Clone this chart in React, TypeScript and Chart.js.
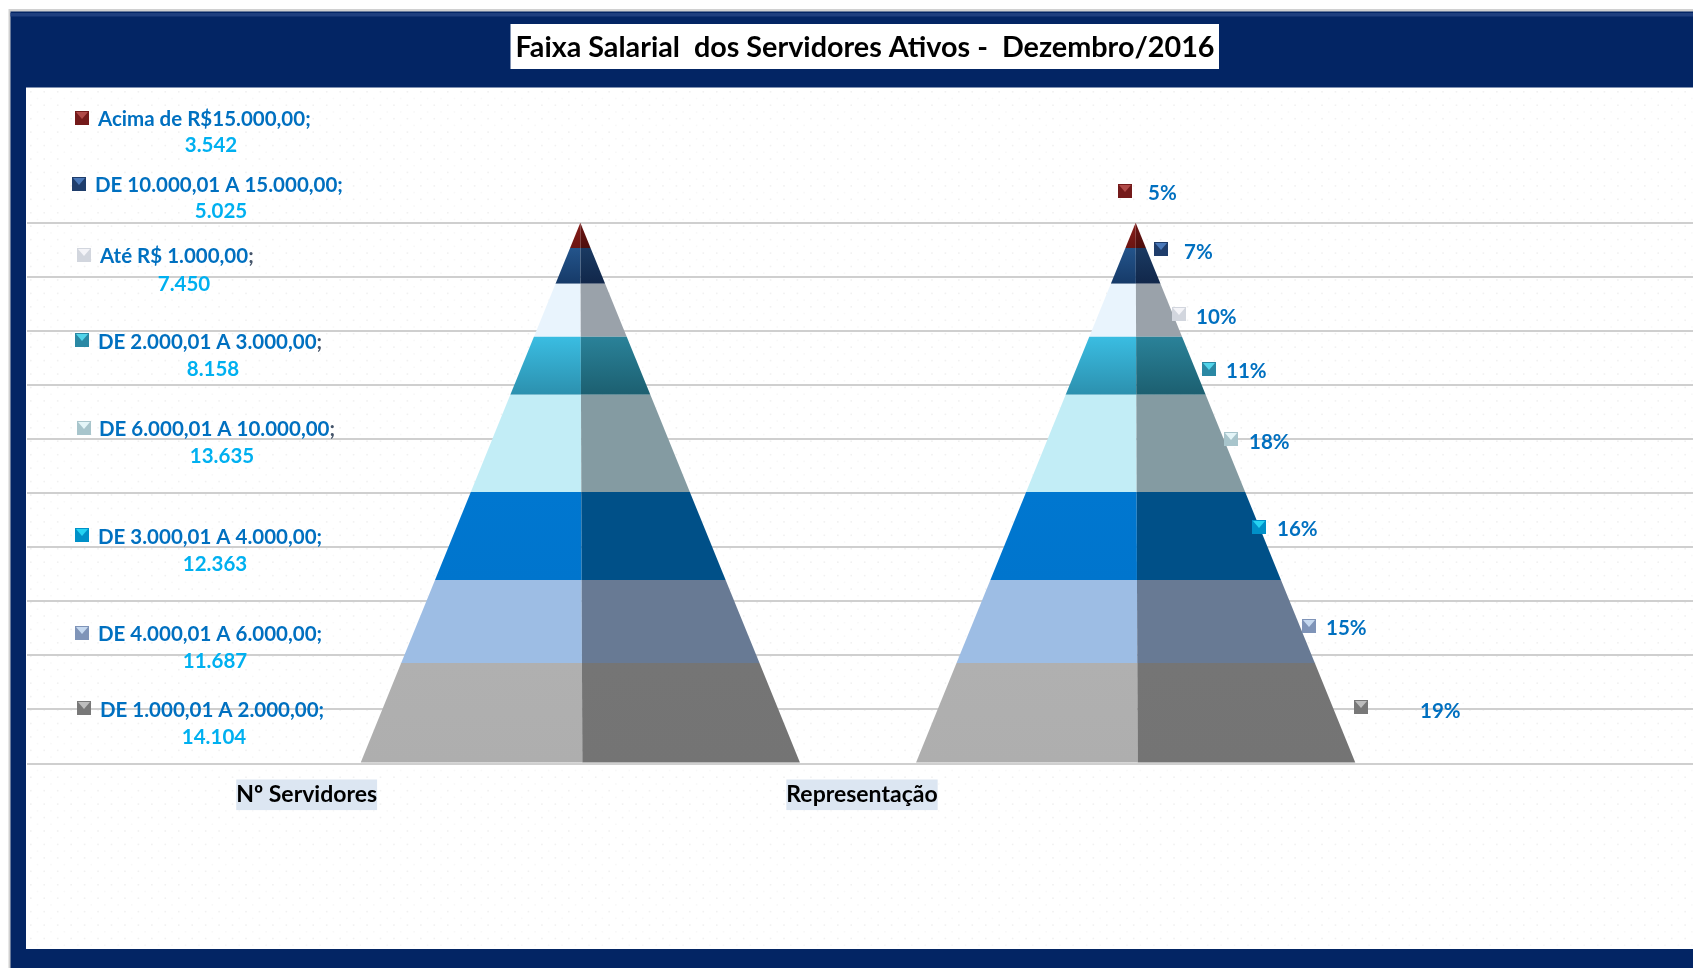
import React, { useEffect, useRef } from "react";
import { Chart, registerables, BarController, BarElement } from "chart.js";

// ---- data (bottom of the pyramid to the top) ----
const categories = ["Nº Servidores", "Representação", ""];
const bandNames = [
  "DE 1.000,01 A 2.000,00",
  "DE 4.000,01 A 6.000,00",
  "DE 3.000,01 A 4.000,00",
  "DE 6.000,01 A 10.000,00",
  "DE 2.000,01 A 3.000,00",
  "Até R$ 1.000,00",
  "DE 10.000,01 A 15.000,00",
  "Acima de R$15.000,00",
];
const servidores = [14104, 11687, 12363, 13635, 8158, 7450, 5025, 3542];
const servidoresText = ["14.104", "11.687", "12.363", "13.635", "8.158", "7.450", "5.025", "3.542"];
const representacao = [19, 15, 16, 18, 11, 10, 7, 5];
const titleText = "Faixa Salarial  dos Servidores Ativos -  Dezembro/2016";

// ---- styles ----
const litSide = [
  ["#b0b0b0", "#aeaeae"], ["#9dbde4", "#9dbde4"], ["#0077d0", "#0075cd"], ["#c2edf6", "#c2edf6"],
  ["#3abde2", "#2c90ae"], ["#e9f4fd", "#e9f4fd"], ["#23548b", "#163a68"], ["#861c18", "#6c1512"],
];
const darkSide = [
  ["#757575", "#747474"], ["#687a94", "#687a94"], ["#005088", "#005088"], ["#849ba2", "#849ba2"],
  ["#2a8299", "#1c5f70"], ["#9aa2aa", "#9aa2aa"], ["#1a3a62", "#11274a"], ["#6c1412", "#4e0f0d"],
];
const markerTop = ["#bdbdbd", "#c6d9f0", "#25d3f2", "#e4f5f8", "#52d4ea", "#f4f4f8", "#4a78b8", "#b04a48"];
const markerBase = ["#787878", "#7f94b8", "#0090c8", "#a8c5cc", "#2a88a4", "#d2d6de", "#1f3d6b", "#741a1a"];
const semicolonColor = ["#0070c0", "#0070c0", "#0070c0", "#44546a", "#44546a", "#44546a", "#0070c0", "#0070c0"];
const FONT = "Lato, 'Open Sans', sans-serif";

// ---- manual label placement, as in the reference: [marker x, marker y, text x, text y, value x, value y] ----
const leftPlacement = [
  [84, 708, 100, 710, 214, 737],
  [82, 633, 98, 634, 215, 661],
  [82, 535, 98, 537, 215, 564],
  [84, 428, 99, 429, 222, 456],
  [82, 340, 98, 342, 213, 369],
  [84, 255, 100, 256, 184, 284],
  [79, 184, 95, 185, 221, 211],
  [82, 118, 98, 119, 211, 145],
];
// [marker x, marker y, text x, text y]
const rightPlacement = [
  [1361, 707, 1420, 711],
  [1309, 626, 1326, 628],
  [1259, 527, 1277, 529],
  [1231, 439, 1249, 442],
  [1209, 369, 1226, 371],
  [1179, 314, 1196, 317],
  [1161, 249, 1184, 252],
  [1125, 191, 1148, 193],
];

const total = servidores.reduce((a, b) => a + b, 0);

// A stacked bar that draws itself as one slice of a pyramid.
class PyramidBar extends (BarElement as any) {
  static id = "pyramidBar";
  drawSlice(ctx: CanvasRenderingContext2D, chart: any, datasetIndex: number) {
    const { x, y, base, width } = (this as any).getProps(["x", "y", "base", "width"]);
    const xs = chart.scales.x;
    const ys = chart.scales.y;
    const cx = x + (xs.getPixelForValue(1) - xs.getPixelForValue(0)) / 2 - 2;
    const top = ys.getPixelForValue(100);
    const bottom = ys.getPixelForValue(0);
    const frac = (p: number) => (p - top) / (bottom - top);
    const half = (p: number) => (width / 2) * frac(p);
    const split = (p: number) => cx + 2 * frac(p);
    const grad = (pair: string[]) => {
      const g = ctx.createLinearGradient(0, y, 0, base);
      g.addColorStop(0, pair[0]);
      g.addColorStop(1, pair[1]);
      return g;
    };
    ctx.save();
    ctx.fillStyle = grad(litSide[datasetIndex]);
    ctx.beginPath();
    ctx.moveTo(split(y), y);
    ctx.lineTo(split(base), base);
    ctx.lineTo(cx - half(base), base);
    ctx.lineTo(cx - half(y), y);
    ctx.closePath();
    ctx.fill();
    ctx.fillStyle = grad(darkSide[datasetIndex]);
    ctx.beginPath();
    ctx.moveTo(split(y), y);
    ctx.lineTo(cx + half(y), y);
    ctx.lineTo(cx + half(base), base);
    ctx.lineTo(split(base), base);
    ctx.closePath();
    ctx.fill();
    ctx.restore();
  }
}

class PyramidController extends (BarController as any) {
  static id = "pyramid";
  static defaults = { ...(BarController as any).defaults, dataElementType: "pyramidBar" };
  draw() {
    const self = this as any;
    self._cachedMeta.data.forEach((el: any) => {
      if (typeof el.y === "number" && !isNaN(el.y)) el.drawSlice(self.chart.ctx, self.chart, self.index);
    });
  }
}

Chart.register(...registerables, PyramidBar as any, PyramidController as any);

function drawMarker(ctx: CanvasRenderingContext2D, cx: number, cy: number, i: number) {
  const s = 14;
  const l = cx - s / 2;
  const t = cy - s / 2;
  ctx.fillStyle = markerBase[i];
  ctx.fillRect(l, t, s, s);
  ctx.fillStyle = markerTop[i];
  ctx.beginPath();
  ctx.moveTo(l + 1, t + 1);
  ctx.lineTo(l + s - 1, t + 1);
  ctx.lineTo(cx, cy + 1);
  ctx.closePath();
  ctx.fill();
}

const framePlugin = {
  id: "frame",
  afterLayout(chart: any) {
    chart.titleBlock.left += 10;
  },
  beforeDraw(chart: any) {
    const ctx: CanvasRenderingContext2D = chart.ctx;
    const W = chart.width;
    const H = chart.height;
    ctx.save();
    ctx.fillStyle = "#ffffff";
    ctx.fillRect(0, 0, W, H);
    ctx.fillStyle = "#d0d0d0";
    ctx.fillRect(8.5, 9, W, H);
    ctx.fillStyle = "#032564";
    ctx.fillRect(10.5, 11.5, W, H);
    ctx.fillStyle = "#1f3f7e";
    ctx.fillRect(10.5, 13, W, 3.5);
    ctx.fillStyle = "#ffffff";
    ctx.fillRect(26, 87.5, W, 949 - 87.5);
    // faint dotted texture of the panel
    let row = 0;
    for (let py = 91; py < 948; py += 6.72) {
      ctx.fillStyle = row % 2 ? "#f8f8f8" : "#f1f1f1";
      const start = 30 + (row % 2 ? 6.72 : 0);
      for (let px = start; px < W; px += 13.45) ctx.fillRect(px, py, 1.6, 1.6);
      row++;
    }
    // white box behind the title
    ctx.fillStyle = "#ffffff";
    ctx.fillRect(510.5, 24, 708.5, 45);
    ctx.restore();
  },
  afterDatasetsDraw(chart: any) {
    const ctx: CanvasRenderingContext2D = chart.ctx;
    ctx.save();
    ctx.textBaseline = "middle";
    bandNames.forEach((name, i) => {
      const [mx, my, tx, ty, vx, vy] = leftPlacement[i];
      drawMarker(ctx, mx, my, i);
      ctx.font = `bold 20.5px ${FONT}`;
      ctx.textAlign = "left";
      ctx.fillStyle = "#0070c0";
      ctx.fillText(name, tx, ty);
      const w = ctx.measureText(name).width;
      ctx.fillStyle = semicolonColor[i];
      ctx.fillText(";", tx + w, ty);
      ctx.textAlign = "center";
      ctx.fillStyle = "#00b0f0";
      ctx.fillText(servidoresText[i], vx, vy);
      const [rmx, rmy, rtx, rty] = rightPlacement[i];
      drawMarker(ctx, rmx, rmy, i);
      ctx.textAlign = "left";
      ctx.fillStyle = "#0070c0";
      ctx.fillText(`${representacao[i]}%`, rtx, rty);
    });
    ctx.restore();
  },
};

export default function App() {
  const ref = useRef<HTMLCanvasElement>(null);
  useEffect(() => {
    document.body.style.margin = "0";
    const datasets = bandNames.map((name, i) => ({
      label: name,
      data: [(servidores[i] / total) * 100, (servidores[i] / total) * 100],
      backgroundColor: litSide[i][0],
      barThickness: 440,
    }));
    const chart = new Chart(ref.current as HTMLCanvasElement, {
      type: "pyramid" as any,
      data: { labels: categories, datasets },
      plugins: [framePlugin],
      options: {
        animation: false,
        responsive: false,
        layout: { padding: { left: 27, right: 0, top: 0, bottom: 968 - 763.5 - 60 } },
        plugins: {
          legend: { display: false },
          tooltip: { enabled: false },
          title: {
            display: true,
            text: titleText,
            color: "#000000",
            font: { family: FONT, size: 28.75, weight: "bold", lineHeight: 1.2 },
            padding: { top: 30.25, bottom: 158 },
          },
        },
        scales: {
          x: {
            type: "category",
            stacked: true,
            offset: true,
            grid: { display: false },
            border: { display: false },
            afterFit(s: any) { s.height = 60; },
            ticks: {
              color: "#000000",
              font: { family: FONT, size: 23, weight: "bold" },
              padding: 9.5,
              labelOffset: 2,
              autoSkip: false,
              maxRotation: 0,
              showLabelBackdrop: (c: any) => c.index < 2,
              backdropColor: "#dce6f2",
              backdropPadding: { top: 1.5, bottom: 1.5, left: 0, right: 0 },
            },
          },
          y: {
            type: "linear",
            stacked: true,
            min: 0,
            max: 100,
            afterFit(s: any) { s.width = 0; },
            border: { display: false },
            grid: { color: "#cfcfcf", lineWidth: 2, drawTicks: false },
            ticks: { display: false, stepSize: 10 },
          },
        },
      } as any,
    });
    return () => chart.destroy();
  }, []);
  return (
    <div style={{ width: 1693, height: 968, overflow: "hidden" }}>
      <canvas ref={ref} width={1693} height={968} style={{ display: "block" }} />
    </div>
  );
}
